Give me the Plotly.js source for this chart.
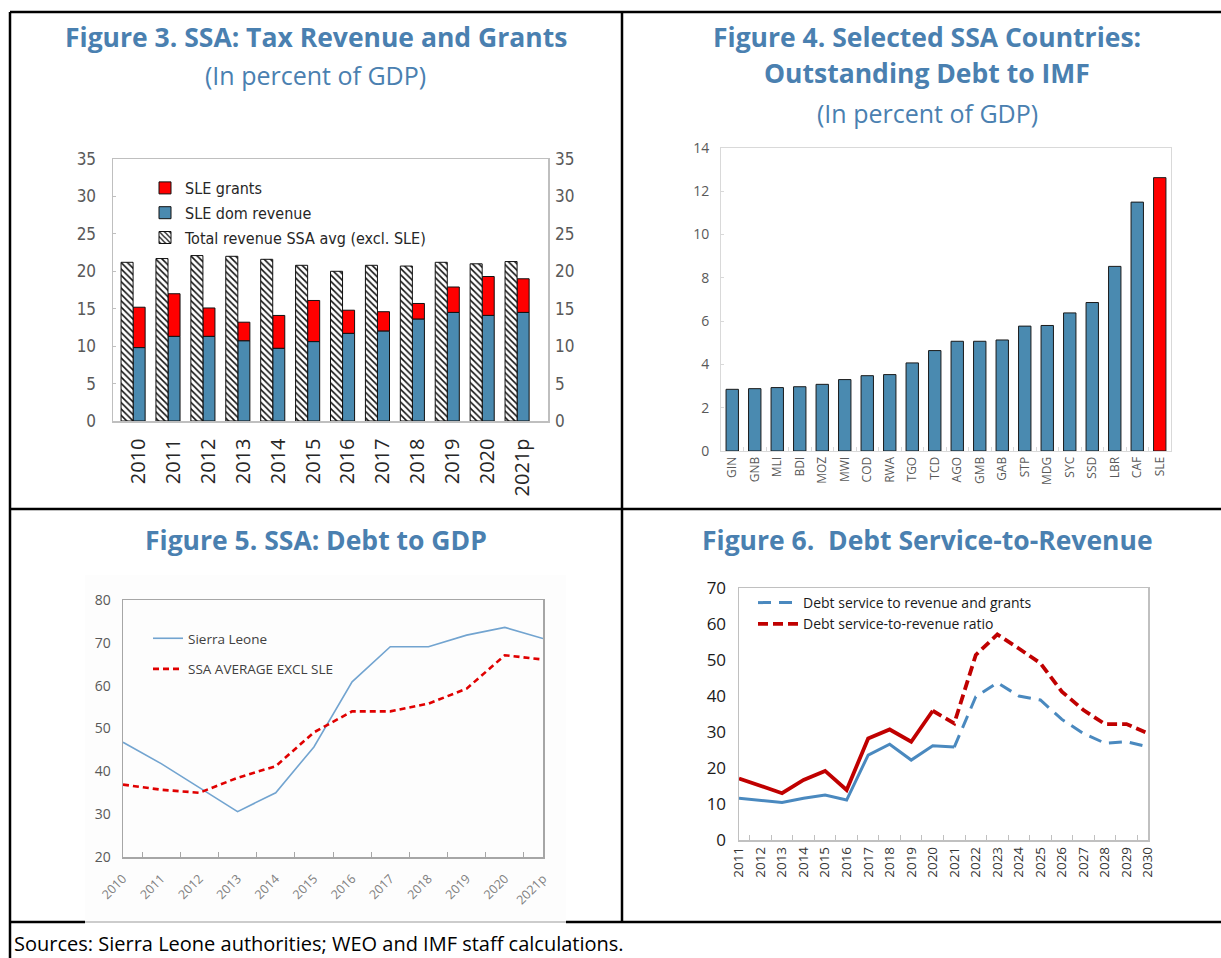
<!DOCTYPE html>
<html><head><meta charset="utf-8">
<script src="https://cdn.plot.ly/plotly-3.0.1.min.js"></script>
<style>html,body{margin:0;padding:0;background:#fff;}#chart{width:1221px;height:958px;}</style>
</head><body><div id="chart"></div>
<script>
// ---------- Figure 3: SSA Tax Revenue and Grants ----------
const fig3Years = ['2010','2011','2012','2013','2014','2015','2016','2017','2018','2019','2020','2021p'];
const ssaTotalRevenue = [21.2, 21.7, 22.1, 22.0, 21.6, 20.8, 20.0, 20.8, 20.7, 21.2, 21.0, 21.3];
const sleDomRevenue   = [9.8, 11.3, 11.3, 10.7, 9.7, 10.6, 11.7, 12.0, 13.6, 14.5, 14.1, 14.5];
const sleGrants       = [5.4, 5.7, 3.8, 2.5, 4.4, 5.5, 3.1, 2.6, 2.1, 3.4, 5.2, 4.5];
const fig3YTicks = [0, 5, 10, 15, 20, 25, 30, 35];

// ---------- Figure 4: Outstanding Debt to IMF ----------
const fig4Countries = ['GIN','GNB','MLI','BDI','MOZ','MWI','COD','RWA','TGO','TCD','AGO','GMB','GAB','STP','MDG','SYC','SSD','LBR','CAF','SLE'];
const fig4Debt = [2.85, 2.88, 2.93, 2.97, 3.08, 3.30, 3.48, 3.53, 4.07, 4.64, 5.07, 5.07, 5.13, 5.77, 5.80, 6.38, 6.86, 8.53, 11.50, 12.63];
const fig4Highlight = 'SLE';

// ---------- Figure 5: Debt to GDP ----------
const fig5Years = ['2010','2011','2012','2013','2014','2015','2016','2017','2018','2019','2020','2021p'];
const sierraLeoneDebt = [46.8, 41.8, 36.2, 30.6, 35.0, 45.7, 60.9, 69.1, 69.1, 71.8, 73.6, 71.0];
const ssaAvgDebt      = [36.9, 35.7, 35.0, 38.5, 41.2, 49.1, 54.0, 54.0, 55.8, 59.3, 67.1, 66.1];

// ---------- Figure 6: Debt Service-to-Revenue ----------
const fig6Years = ['2011','2012','2013','2014','2015','2016','2017','2018','2019','2020','2021','2022','2023','2024','2025','2026','2027','2028','2029','2030'];
const dsRevGrants = [11.6, 10.9, 10.4, 11.6, 12.5, 11.1, 23.6, 26.6, 22.2, 26.2, 25.8, 39.8, 43.7, 40.0, 38.9, 33.5, 29.6, 26.9, 27.3, 25.9];
const dsRevRatio  = [17.1, 15.0, 13.0, 16.7, 19.2, 13.9, 28.2, 30.7, 27.3, 35.9, 32.4, 51.4, 57.1, 53.2, 49.1, 41.2, 36.1, 32.2, 32.2, 29.6];
const blueProjStart = '2021';
const redProjStart = '2020';

// ---------- helpers ----------
const W = 1221, H = 958;
const px = x => x / W;
const py = y => 1 - y / H;
const TITLE_BLUE = '#4a80b0';
const NARROW = '"Liberation Sans Narrow", "DejaVu Sans Condensed", sans-serif';
const SANS = '"Open Sans", "Noto Sans", sans-serif';

const bi = fig6Years.indexOf(blueProjStart);
const ri = fig6Years.indexOf(redProjStart);

const traces = [
  // Figure 3
  {type:'bar', x:fig3Years, y:sleGrants, base:sleDomRevenue, name:'SLE grants', xaxis:'x', yaxis:'y',
   offset:-0.155, width:0.345, marker:{color:'#ff0000', line:{color:'#111', width:1}},
   legend:'legend', legendgroup:'g1', hoverinfo:'skip'},
  {type:'bar', x:fig3Years, y:sleDomRevenue, name:'SLE dom revenue', xaxis:'x', yaxis:'y',
   offset:-0.155, width:0.345, marker:{color:'#4a8ab0', line:{color:'#111', width:1}},
   legend:'legend', legendgroup:'g2', hoverinfo:'skip'},
  {type:'bar', x:fig3Years, y:ssaTotalRevenue, name:'Total revenue SSA avg (excl. SLE)', xaxis:'x', yaxis:'y',
   offset:-0.5, width:0.345,
   marker:{color:'#ffffff', line:{color:'#111', width:1},
           pattern:{shape:'\\', fgcolor:'#111', bgcolor:'#ffffff', size:4.5, solidity:0.35, fillmode:'replace'}},
   legend:'legend', legendgroup:'g3', hoverinfo:'skip'},
  {type:'scatter', mode:'markers', x:fig3Years, y:ssaTotalRevenue, xaxis:'x', yaxis:'y2',
   marker:{opacity:0}, showlegend:false, hoverinfo:'skip'},
  // Figure 4
  {type:'bar', x:fig4Countries, y:fig4Debt, xaxis:'x2', yaxis:'y3', width:0.55,
   marker:{color:fig4Countries.map(c => c === fig4Highlight ? '#ff0000' : '#4a8ab0'), line:{color:'#1a1a1a', width:1}},
   showlegend:false, hoverinfo:'skip'},
  // Figure 5
  {type:'scatter', mode:'lines', x:fig5Years, y:sierraLeoneDebt, name:'Sierra Leone', xaxis:'x3', yaxis:'y4',
   line:{color:'#72a4d0', width:1.6}, legend:'legend2', legendgroup:'s1', hoverinfo:'skip'},
  {type:'scatter', mode:'lines', x:fig5Years, y:ssaAvgDebt, name:'SSA AVERAGE EXCL SLE', xaxis:'x3', yaxis:'y4',
   line:{color:'#e00000', width:2.6, dash:'6px,4px'}, legend:'legend2', legendgroup:'s2', hoverinfo:'skip'},
  // Figure 6
  {type:'scatter', mode:'lines', x:fig6Years.slice(0, bi + 1), y:dsRevGrants.slice(0, bi + 1), xaxis:'x4', yaxis:'y5',
   line:{color:'#4a89bf', width:3}, showlegend:false, hoverinfo:'skip'},
  {type:'scatter', mode:'lines', x:fig6Years.slice(0, ri + 1), y:dsRevRatio.slice(0, ri + 1), xaxis:'x4', yaxis:'y5',
   line:{color:'#c00000', width:3.8}, showlegend:false, hoverinfo:'skip'},
  {type:'scatter', mode:'lines', x:fig6Years.slice(bi), y:dsRevGrants.slice(bi), name:'Debt service to revenue and grants',
   xaxis:'x4', yaxis:'y5', line:{color:'#4a89bf', width:3, dash:'13px,8px'}, legend:'legend3', legendgroup:'d1', hoverinfo:'skip'},
  {type:'scatter', mode:'lines', x:fig6Years.slice(ri), y:dsRevRatio.slice(ri), name:'Debt service-to-revenue ratio',
   xaxis:'x4', yaxis:'y5', line:{color:'#c00000', width:3.8, dash:'10px,5px'}, legend:'legend3', legendgroup:'d2', hoverinfo:'skip'}
];

const ann = (x, y, text, size, opts) => Object.assign({xref:'paper', yref:'paper', x:px(x), y:py(y), text:text,
  showarrow:false, xanchor:'center', yanchor:'middle', font:{family:SANS, size:size, color:TITLE_BLUE}}, opts || {});

const line = (x0, y0, x1, y1, color, width) => ({type:'line', xref:'paper', yref:'paper',
  x0:px(x0), y0:py(y0), x1:px(x1), y1:py(y1), line:{color:color, width:width}});

const layout = {
  width: W, height: H,
  margin:{l:0, r:0, t:0, b:0},
  paper_bgcolor:'#ffffff', plot_bgcolor:'rgba(0,0,0,0)',
  barmode:'overlay',
  hovermode:false,
  font:{family:SANS, color:'#333'},
  // Figure 3 axes
  xaxis:{domain:[px(113), px(548)], anchor:'y', type:'category', tickangle:-90,
    tickfont:{family:SANS, size:20, color:'#262626'}, showline:true, mirror:true, linecolor:'#bfbfbf', linewidth:1.5,
    ticks:'', showgrid:false, zeroline:false, ticklabelstandoff:8, fixedrange:true},
  yaxis:{domain:[py(421), py(159)], anchor:'x', range:[0,35], tickvals:fig3YTicks,
    tickfont:{family:NARROW, size:17, color:'#595959'}, showline:true, mirror:true, linecolor:'#bfbfbf', linewidth:1.5,
    ticks:'inside', ticklen:3, tickcolor:'#bfbfbf', showgrid:false, zeroline:false, ticklabelstandoff:12, fixedrange:true},
  yaxis2:{overlaying:'y', anchor:'x', side:'right', range:[0,35], tickvals:fig3YTicks,
    tickfont:{family:NARROW, size:17, color:'#595959'}, showline:false, showgrid:false, zeroline:false,
    ticks:'', ticklabelstandoff:6, fixedrange:true},
  // Figure 4 axes
  xaxis2:{domain:[px(721), px(1171)], anchor:'y3', type:'category', tickangle:-90,
    tickfont:{family:SANS, size:12, color:'#595959'}, showline:true, mirror:true, linecolor:'#d9d9d9', linewidth:1,
    ticks:'inside', tickson:'boundaries', ticklen:4, tickcolor:'#d9d9d9', showgrid:false, zeroline:false, fixedrange:true},
  yaxis3:{domain:[py(451), py(148)], anchor:'x2', range:[0,14], dtick:2,
    tickfont:{family:SANS, size:14, color:'#595959'}, showline:true, mirror:true, linecolor:'#d9d9d9', linewidth:1,
    ticks:'inside', ticklen:3, tickcolor:'#d9d9d9', showgrid:false, zeroline:false, ticklabelstandoff:8, fixedrange:true},
  // Figure 5 axes
  xaxis3:{domain:[px(123), px(543)], anchor:'y4', type:'category', tickangle:-45,
    tickfont:{family:SANS, size:12.5, color:'#808080'}, showline:true, mirror:true, linecolor:'#a6a6a6', linewidth:1.5,
    ticks:'inside', tickson:'boundaries', ticklen:5, tickcolor:'#a6a6a6', showgrid:false, zeroline:false,
    ticklabelstandoff:8, fixedrange:true},
  yaxis4:{domain:[py(857), py(600)], anchor:'x3', range:[20,80], dtick:10,
    tickfont:{family:SANS, size:14, color:'#595959'}, showline:true, mirror:true, linecolor:'#a6a6a6', linewidth:1.5,
    ticks:'', showgrid:false, zeroline:false, ticklabelstandoff:8, fixedrange:true},
  // Figure 6 axes
  xaxis4:{domain:[px(739), px(1148)], anchor:'y5', type:'category', tickangle:-90,
    tickfont:{family:SANS, size:13.5, color:'#333'}, showline:true, mirror:true, linecolor:'#c0c0c0', linewidth:1.5,
    ticks:'inside', tickson:'boundaries', ticklen:5, tickcolor:'#c0c0c0', showgrid:false, zeroline:false, fixedrange:true},
  yaxis5:{domain:[py(840), py(588)], anchor:'x4', range:[0,70], dtick:10,
    tickfont:{family:SANS, size:17, color:'#1a1a1a'}, showline:true, mirror:true, linecolor:'#c0c0c0', linewidth:1.5,
    ticks:'', showgrid:false, zeroline:false, ticklabelstandoff:8, fixedrange:true},
  // Legends
  legend:{x:px(145), y:py(171), xanchor:'left', yanchor:'top', bgcolor:'rgba(0,0,0,0)', borderwidth:0,
    font:{family:NARROW, size:16, color:'#262626'}, traceorder:'grouped', tracegroupgap:1, itemwidth:30},
  legend2:{x:px(148), y:py(623), xanchor:'left', yanchor:'top', bgcolor:'rgba(0,0,0,0)', borderwidth:0,
    font:{family:SANS, size:13.5, color:'#404040'}, traceorder:'grouped', tracegroupgap:10, itemwidth:30},
  legend3:{x:px(753), y:py(587), xanchor:'left', yanchor:'top', bgcolor:'rgba(0,0,0,0)', borderwidth:0,
    font:{family:SANS, size:14, color:'#1a1a1a'}, traceorder:'grouped', tracegroupgap:0, itemwidth:40},
  annotations:[
    ann(316, 37, '<b>Figure 3. SSA: Tax Revenue and Grants</b>', 26.5),
    ann(316, 75, '(In percent of GDP)', 25),
    ann(927, 37, '<b>Figure 4. Selected SSA Countries:</b>', 26.5),
    ann(927, 73, '<b>Outstanding Debt to IMF</b>', 26.5),
    ann(927, 113, '(In percent of GDP)', 25),
    ann(316, 540, '<b>Figure 5. SSA: Debt to GDP</b>', 26.5),
    ann(927, 540, '<b>Figure 6.\u00A0 Debt Service-to-Revenue</b>', 26.5),
    ann(12, 943, 'Sources: Sierra Leone authorities; WEO and IMF staff calculations.', 20,
        {xanchor:'left', font:{family:SANS, size:20, color:'#000'}})
  ],
  shapes:[
    {type:'rect', xref:'paper', yref:'paper', x0:px(85), x1:px(566), y0:py(922), y1:py(575), fillcolor:'#fdfdfd', line:{width:0}, layer:'below'},
    line(10, 12, 1221, 12, '#000', 2.5),
    line(10, 12, 10, 958, '#000', 2.5),
    line(622, 12, 622, 922, '#000', 2.5),
    line(10, 509, 1221, 509, '#000', 2.5),
    line(10, 922, 85, 922, '#000', 2.5),
    line(85, 922, 566, 922, '#9a9a9a', 1),
    line(566, 922, 1221, 922, '#000', 2.5)
  ]
};

Plotly.newPlot('chart', traces, layout, {displayModeBar:false, staticPlot:true});
</script>
</body></html>
